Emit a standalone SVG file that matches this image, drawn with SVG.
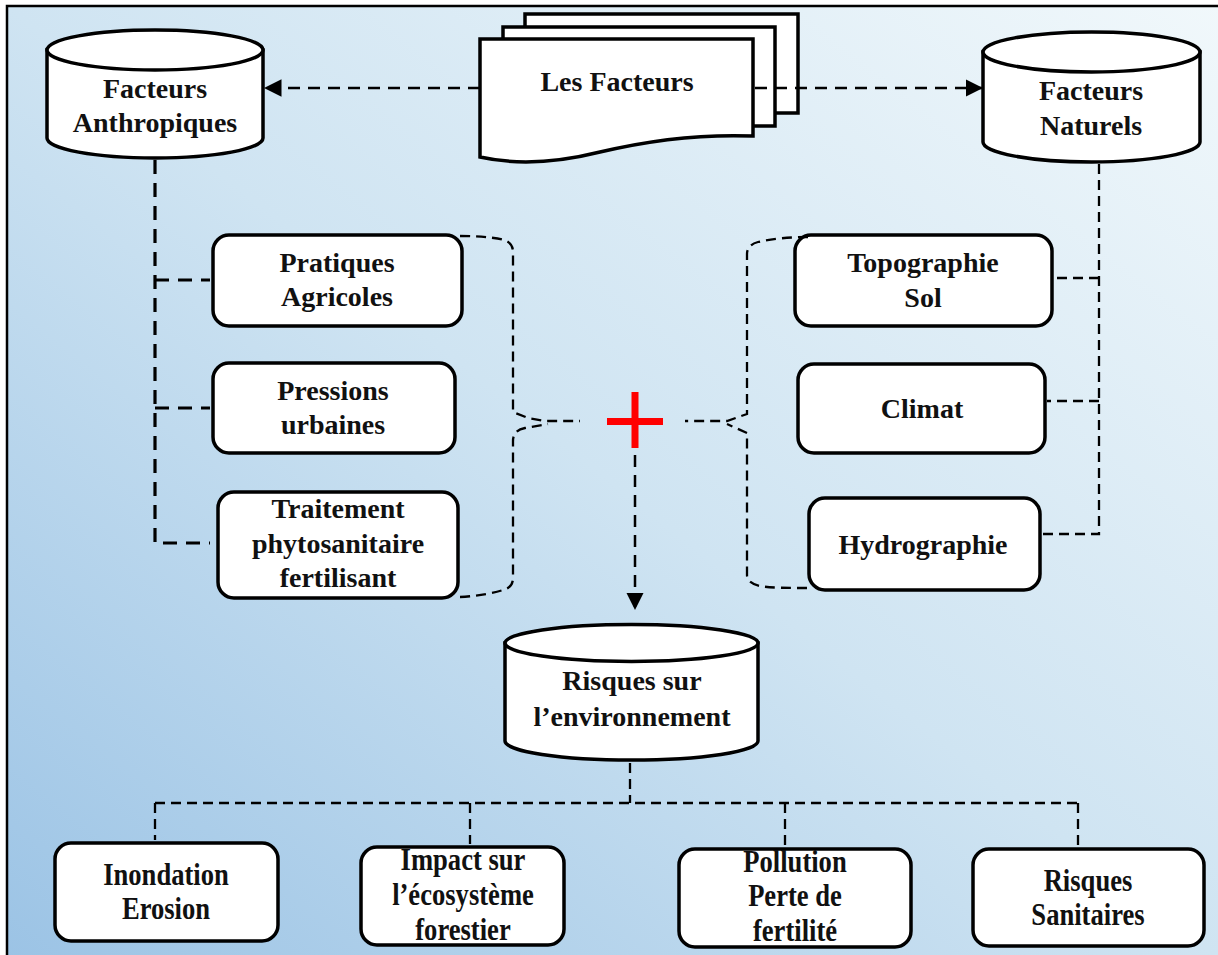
<svg xmlns="http://www.w3.org/2000/svg" width="1218" height="955" viewBox="0 0 1218 955">
<defs>
<linearGradient id="bg" x1="1" y1="0" x2="0" y2="1">
<stop offset="0" stop-color="#f1f8fb"/>
<stop offset="0.5" stop-color="#cfe4f2"/>
<stop offset="1" stop-color="#9bc3e5"/>
</linearGradient>
<marker id="ah2" viewBox="0 0 10 10" refX="10" refY="5" markerWidth="7" markerHeight="7" orient="auto" markerUnits="strokeWidth">
<path d="M0,0 L10,5 L0,10 Z" fill="#000"/>
</marker>
</defs>
<style>
.shape{fill:#fff;stroke:#000;stroke-width:3.5}
.cyl{fill:#fff;stroke:#000;stroke-width:3.5}
.t{font-family:"Liberation Serif","Times New Roman",serif;font-weight:bold;font-size:28px;fill:#111;text-anchor:middle}
.tb{font-family:"Liberation Serif","Times New Roman",serif;font-weight:bold;font-size:28px;fill:#111;text-anchor:middle;transform-box:fill-box;transform-origin:center;transform:scale(0.95,1.12)}
.dthick{fill:none;stroke:#000;stroke-width:3.2;stroke-dasharray:14 9}
.dthin{fill:none;stroke:#000;stroke-width:2.3;stroke-dasharray:10 6}
.darr{fill:none;stroke:#000;stroke-width:2.5;stroke-dasharray:12 8}
</style>
<rect x="0" y="0" width="1218" height="955" fill="#fff"/>
<rect x="7" y="6" width="1220" height="960" fill="url(#bg)" stroke="#000" stroke-width="2.5"/>

<g id="plus">
<rect x="607" y="418" width="56" height="7" fill="#ff0000"/>
<rect x="631.5" y="392" width="7" height="56" fill="#ff0000"/>
</g>

<g id="les-facteurs">
<rect class="shape" x="525" y="14" width="273" height="99"/>
<rect class="shape" x="503" y="27" width="272" height="99"/>
<path class="shape" d="M480,39 H753 V136 C700,134 650,140 600,152 C560,162 520,166 480,157 Z"/>
<text class="t" x="617" y="91">Les Facteurs</text>
</g>

<g id="facteurs-anthropiques">
<path class="cyl" d="M47,50 V138 A108,20 0 0 0 263,138 V50 Z"/>
<ellipse class="cyl" cx="155" cy="50" rx="108" ry="20"/>
<text class="t" x="155" y="98">Facteurs</text>
<text class="t" x="155" y="132">Anthropiques</text>
</g>

<g id="facteurs-naturels">
<path class="cyl" d="M983,52 V142 A108.5,20 0 0 0 1200,142 V52 Z"/>
<ellipse class="cyl" cx="1091.5" cy="52" rx="108.5" ry="20"/>
<text class="t" x="1091" y="100">Facteurs</text>
<text class="t" x="1091" y="135">Naturels</text>
</g>

<g id="pratiques-agricoles">
<rect class="shape" x="213" y="235" width="249" height="91" rx="16"/>
<text class="t" x="337" y="272">Pratiques</text>
<text class="t" x="337" y="306">Agricoles</text>
</g>

<g id="pressions-urbaines">
<rect class="shape" x="213" y="363" width="242" height="90" rx="16"/>
<text class="t" x="333" y="400">Pressions</text>
<text class="t" x="333" y="434">urbaines</text>
</g>

<g id="traitement">
<rect class="shape" x="218" y="492" width="240" height="106" rx="16"/>
<text class="t" x="338" y="518">Traitement</text>
<text class="t" x="338" y="553">phytosanitaire</text>
<text class="t" x="338" y="587">fertilisant</text>
</g>

<g id="topographie-sol">
<rect class="shape" x="795" y="235" width="257" height="91" rx="16"/>
<text class="t" x="923" y="272">Topographie</text>
<text class="t" x="923" y="307">Sol</text>
</g>

<g id="climat">
<rect class="shape" x="798" y="364" width="247" height="89" rx="16"/>
<text class="t" x="922" y="418">Climat</text>
</g>

<g id="hydrographie">
<rect class="shape" x="809" y="498" width="231" height="92" rx="16"/>
<text class="t" x="923" y="554">Hydrographie</text>
</g>

<g id="risques-environnement">
<path class="cyl" d="M505,643 V741 A126.5,19 0 0 0 758,741 V643 Z"/>
<ellipse class="cyl" cx="631.5" cy="643" rx="126.5" ry="18.5"/>
<text class="t" x="632" y="690">Risques sur</text>
<text class="t" x="632" y="726">l’environnement</text>
</g>

<g id="inondation-erosion">
<rect class="shape" x="55" y="843" width="223" height="98" rx="16"/>
<text class="tb" x="166" y="884">Inondation</text>
<text class="tb" x="166" y="918">Erosion</text>
</g>

<g id="impact-ecosysteme">
<rect class="shape" x="361" y="847" width="203" height="98" rx="16"/>
<text class="tb" x="463" y="869">Impact sur</text>
<text class="tb" x="463" y="904">l’écosystème</text>
<text class="tb" x="463" y="939">forestier</text>
</g>

<g id="pollution">
<rect class="shape" x="679" y="849" width="232" height="98" rx="16"/>
<text class="tb" x="795" y="871">Pollution</text>
<text class="tb" x="795" y="905">Perte de</text>
<text class="tb" x="795" y="940">fertilité</text>
</g>

<g id="risques-sanitaires">
<rect class="shape" x="973" y="849" width="231" height="97" rx="16"/>
<text class="tb" x="1088" y="890">Risques</text>
<text class="tb" x="1088" y="924">Sanitaires</text>
</g>

<g id="connectors">
<line class="darr" x1="480" y1="88" x2="264" y2="88" marker-end="url(#ah2)"/>
<line class="darr" x1="755" y1="88" x2="983" y2="88" marker-end="url(#ah2)"/>
<path class="dthick" d="M155,160 V543 H210 M155,280 H210 M155,408 H210"/>
<path class="dthin" d="M1099,164 V534 H1042 M1099,278 H1054 M1099,401 H1047"/>
<path class="dthin" d="M460,236 C480,236 498,238 504,240 Q513,243 513,252 V412 L528,418 L545,421 H580 M460,597 C480,596 498,592 506,589 Q513,586 513,578 V441 Q513,430 525,428 L548,424"/>
<path class="dthin" d="M808,237 C790,237 770,239 758,242 Q747,245 747,254 V414 L727,421 H685 M747,433 L727,424 M807,588 C790,588 770,588 760,586 Q747,583 747,575 V433"/>
<line class="darr" x1="635" y1="455" x2="635" y2="610" stroke-dasharray="11 7" marker-end="url(#ah2)"/>
<path class="dthin" d="M630,763 V803 M155,803 H1078 M155,803 V840 M470,803 V844 M785,803 V846 M1078,803 V846"/>
</g>
</svg>
